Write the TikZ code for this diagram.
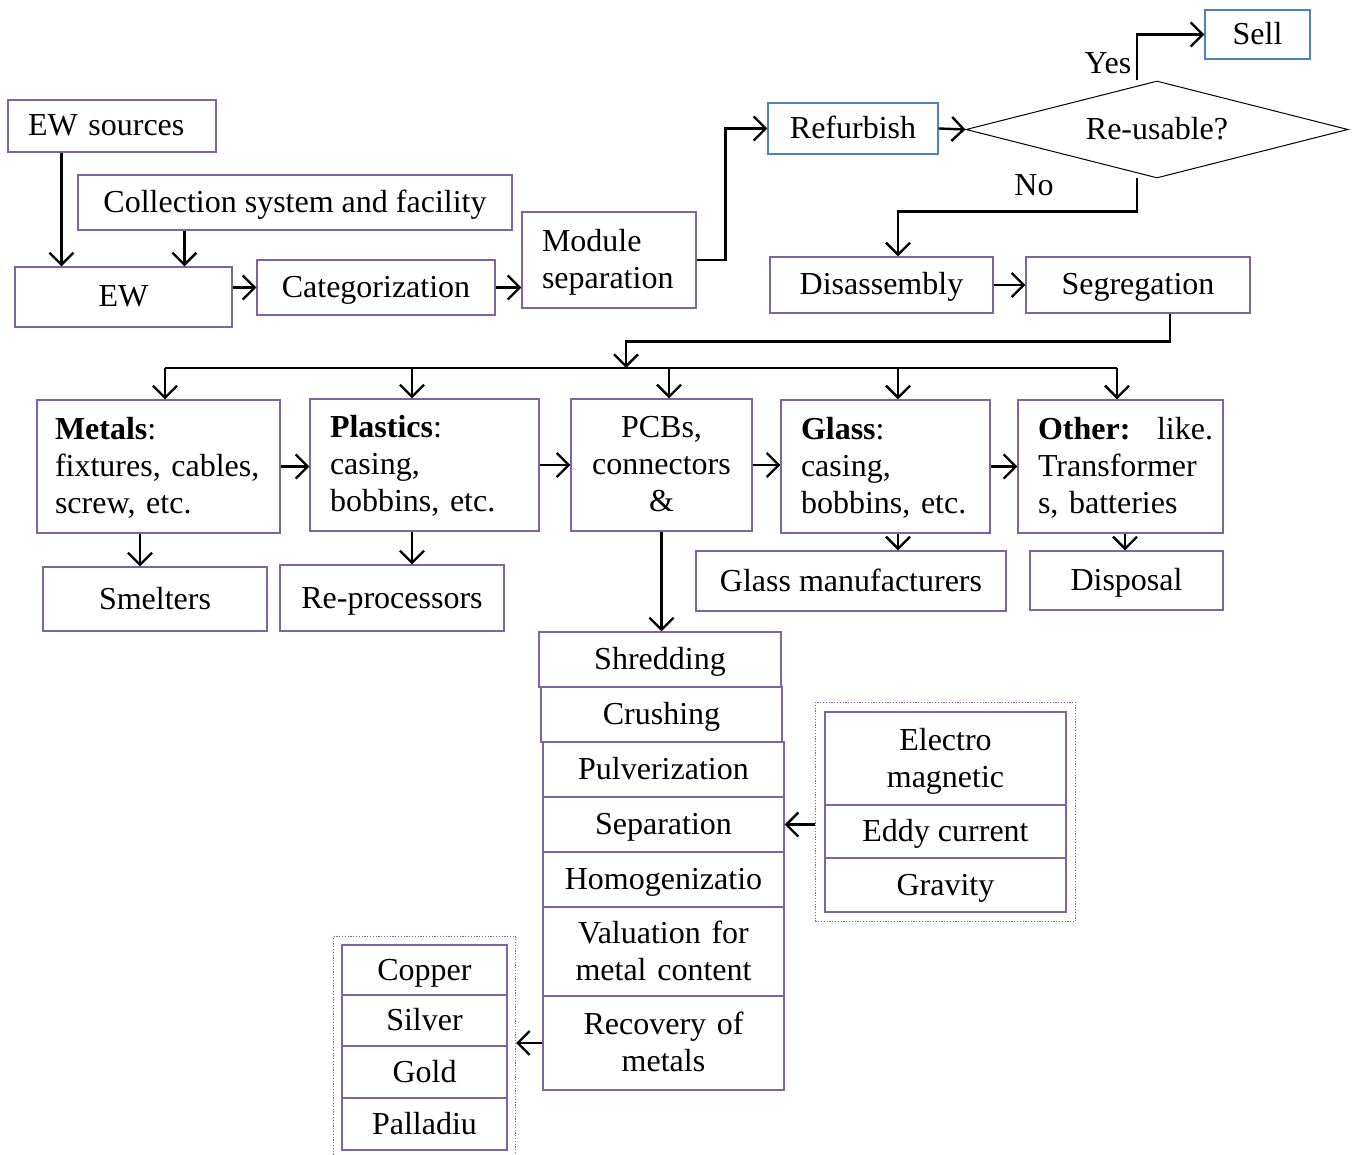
\documentclass[tikz,border=0pt]{standalone}
\usepackage{fontspec}
\setmainfont{Liberation Serif}
\usetikzlibrary{arrows.meta,shapes.geometric,fit}
\definecolor{boxpurple}{RGB}{128,100,162}
\definecolor{boxblue}{RGB}{79,129,189}
\begin{document}
\begin{tikzpicture}[x=1pt,y=-1pt,
  box/.style={draw=boxpurple, line width=1.2pt, inner sep=0pt, font=\fontsize{32pt}{37pt}\selectfont, align=center, text height=28pt, text depth=8pt},
  mltwo/.style={text depth=45pt},
  mlthree/.style={text depth=82pt},
  cbox/.style={box, inner xsep=10pt},
  bluebox/.style={box, draw=boxblue},
  lbox/.style={box, align=left, inner xsep=20pt},
  arr/.style={line width=2.4pt, -{Straight Barb[length=12pt,width=24pt]}},
  plain/.style={line width=2.4pt},
  lbl/.style={font=\fontsize{32pt}{37pt}\selectfont, inner sep=0pt},
  dotbox/.style={draw=boxpurple, dash pattern=on 1.2pt off 1.6pt, line width=0.8pt, inner sep=8pt}]
\useasboundingbox[fill=white] (0,0) rectangle (1353,1155);

% top part
\node[lbox, text width=168pt, minimum height=52pt] (src) at (112,126) {EW sources};
\node[box, minimum width=434pt, minimum height=55pt] (coll) at (295,202.5) {Collection system and facility};
\node[box, minimum width=217pt, minimum height=60pt] (ew) at (123.5,297) {EW};
\node[box, minimum width=238pt, minimum height=55pt] (cat) at (376,287.5) {Categorization};
\node[lbox, mltwo, text width=134pt, minimum height=96pt] (mod) at (609,260) {Module\\separation};
\node[bluebox, minimum width=170pt, minimum height=51pt] (ref) at (853,128.5) {Refurbish};
\node[diamond, draw, line width=1pt, aspect=3.9, inner sep=0pt, minimum width=382pt, minimum height=97pt, font=\fontsize{32pt}{37pt}\selectfont, text height=28pt, text depth=8pt] (dia) at (1157,129.5) {Re-usable?};
\node[bluebox, minimum width=105pt, minimum height=49pt] (sell) at (1257.5,34.5) {Sell};
\node[box, minimum width=223pt, minimum height=56pt] (dis) at (881.5,285) {Disassembly};
\node[box, minimum width=224pt, minimum height=56pt] (seg) at (1138,285) {Segregation};
\node[lbl] (yes) at (1108,63) {Yes};
\node[lbl] (no) at (1034,185) {No};

% categories
\node[lbox, mlthree, inner xsep=18pt, text width=207pt, minimum height=133pt] (metals) at (158.5,466.5) {\textbf{Metals}:\\fixtures, cables,\\screw, etc.};
\node[lbox, mlthree, text width=189pt, minimum height=132pt] (plast) at (424.5,465) {\textbf{Plastics}:\\casing,\\bobbins, etc.};
\node[cbox, mlthree, text width=161pt, minimum height=132pt] (pcb) at (661.5,465) {PCBs,\\connectors\\\&};
\node[lbox, mlthree, text width=169pt, minimum height=133pt] (glass) at (885.5,466.5) {\textbf{Glass}:\\casing,\\bobbins, etc.};
\node[lbox, mlthree, text width=165pt, minimum height=133pt] (other) at (1120.5,466.5) {\textbf{Other:}~ \hfill like.\\Transformer\\s, batteries};

\node[box, minimum width=224pt, minimum height=64pt] (smelt) at (155,599) {Smelters};
\node[box, minimum width=224pt, minimum height=66pt] (repro) at (392,598) {Re-processors};
\node[box, minimum width=310pt, minimum height=60pt] (glassm) at (851,581) {Glass manufacturers};
\node[box, minimum width=193pt, minimum height=59pt] (disp) at (1126.5,580.5) {Disposal};

% PCB process stack
\node[box, minimum width=242pt, minimum height=55pt] (shred) at (660,659.5) {Shredding};
\node[box, minimum width=241pt, minimum height=55pt] (crush) at (661.5,714.5) {Crushing};
\node[box, minimum width=241pt, minimum height=55pt] (pulv) at (663.5,769.5) {Pulverization};
\node[box, minimum width=241pt, minimum height=55pt] (sep) at (663.5,824.5) {Separation};
\node[box, minimum width=241pt, minimum height=55pt] (homo) at (663.5,879.5) {Homogenizatio};
\node[cbox, mltwo, text width=221pt, minimum height=89pt] (val) at (663.5,951.5) {Valuation for\\metal content};
\node[cbox, mltwo, text width=221pt, minimum height=94pt] (rec) at (663.5,1043) {Recovery of\\metals};

% separation methods
\node[cbox, mltwo, text width=221pt, minimum height=93pt] (elec) at (945.5,758.5) {Electro\\magnetic};
\node[box, minimum width=241pt, minimum height=53pt] (eddy) at (945.5,831.5) {Eddy current};
\node[box, minimum width=241pt, minimum height=54pt] (grav) at (945.5,885) {Gravity};
\node[dotbox, inner sep=9pt, fit=(elec)(grav)] (rgrp) {};

% metals
\node[box, minimum width=165pt, minimum height=50pt] (copper) at (424.5,970) {Copper};
\node[box, minimum width=165pt, minimum height=51pt] (silver) at (424.5,1020.5) {Silver};
\node[box, minimum width=165pt, minimum height=52pt] (gold) at (424.5,1072) {Gold};
\node[box, minimum width=165pt, minimum height=52pt] (pall) at (424.5,1124) {Palladiu};
\node[dotbox, fit=(copper)(pall)] (lgrp) {};

% connectors top
\draw[arr] ([xshift=54pt]src.south west) -- ([xshift=47pt]ew.north west);
\draw[arr] ([xshift=107pt]coll.south west) -- ([xshift=170pt]ew.north west);
\draw[arr] (ew.east |- cat.west) -- (cat.west);
\draw[arr] (cat.east) -- (mod.west |- cat.east);
\draw[arr] (mod.east) -- ++(29,0) |- (ref.west);
\draw[arr] (ref.east) -- (dia.west);
\draw[arr] ([xshift=-20pt]dia.north) |- (sell.west);
\draw[arr] ([xshift=-20pt]dia.south) -- ++(0,33) -| ([xshift=16.5pt]dis.north);
\draw[arr] (dis.east) -- (seg.west);

% distribution bus
\coordinate (bus) at (626,368);
\coordinate (b1) at (165,368);
\coordinate (b2) at (412,368);
\coordinate (b3) at (669,368);
\coordinate (b4) at (898,368);
\coordinate (b5) at (1117,368);
\draw[arr] ([xshift=32pt]seg.south) -- ++(0,28) -| (bus);
\draw[plain] (b1) -- (b5);
\draw[arr] (b1) -- (b1 |- metals.north);
\draw[arr] (b2) -- (b2 |- plast.north);
\draw[arr] (b3) -- (b3 |- pcb.north);
\draw[arr] (b4) -- (b4 |- glass.north);
\draw[arr] (b5) -- (b5 |- other.north);

% between categories
\draw[arr] (metals.east) -- (plast.west |- metals.east);
\draw[arr] (plast.east) -- (pcb.west);
\draw[arr] (pcb.east) -- (glass.west |- pcb.east);
\draw[arr] (glass.east) -- (other.west);

% to destinations
\draw[arr] ([xshift=-18.5pt]metals.south) -- ([xshift=-18.5pt]metals.south |- smelt.north);
\draw[arr] ([xshift=-12.5pt]plast.south) -- ([xshift=-12.5pt]plast.south |- repro.north);
\draw[arr] ([xshift=12.5pt]glass.south) -- ([xshift=12.5pt]glass.south |- glassm.north);
\draw[arr] ([xshift=4.5pt]other.south) -- ([xshift=4.5pt]other.south |- disp.north);
\draw[arr] (pcb.south) -- (pcb.south |- shred.north);

% side inputs/outputs
\draw[arr] (rgrp.west |- sep.east) -- (sep.east);
\draw[arr] (rec.west) -- (lgrp.east |- rec.west);
\end{tikzpicture}
\end{document}
